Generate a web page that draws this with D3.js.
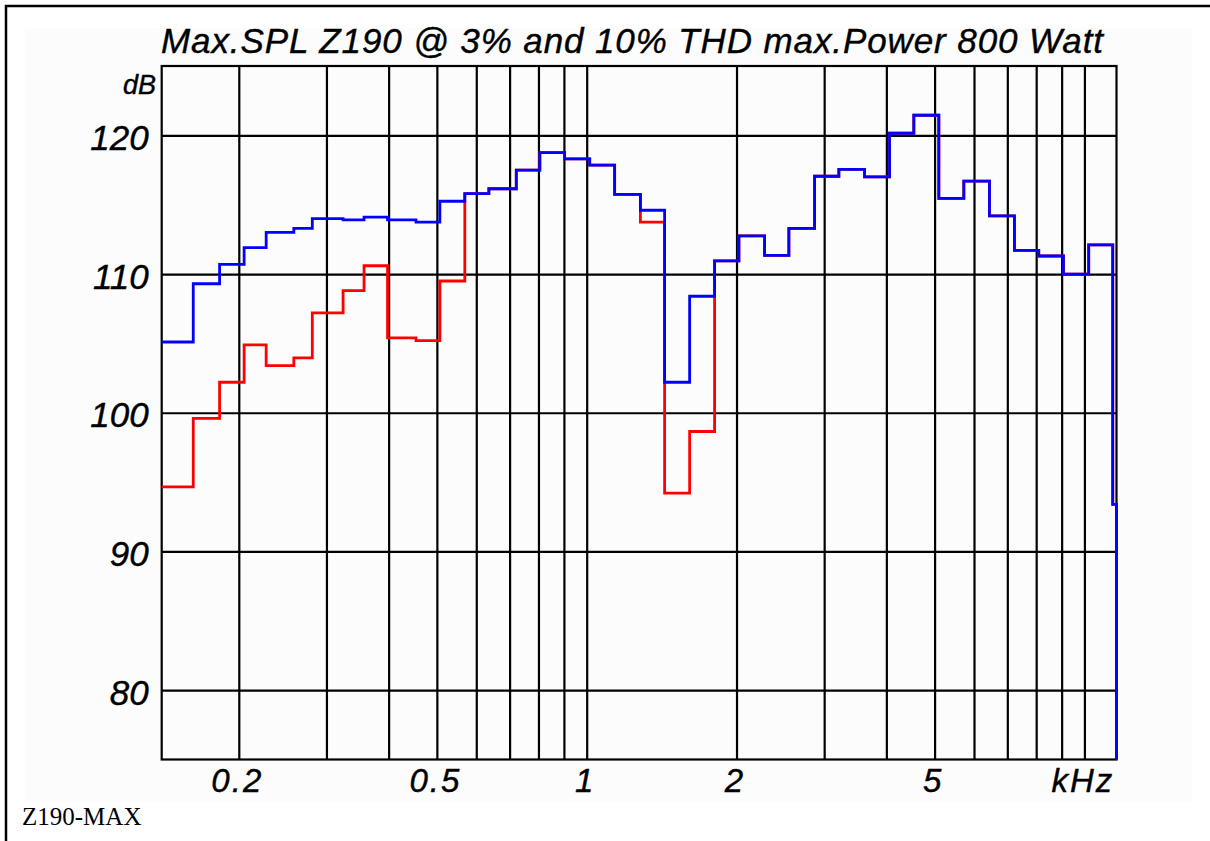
<!DOCTYPE html>
<html>
<head>
<meta charset="utf-8">
<script src="https://cdn.jsdelivr.net/npm/d3@7"></script>
<style>
  body { margin: 0; background: #fff; }
  svg { display: block; }
</style>
</head>
<body>
<svg width="1210" height="841"></svg>
<script>

// band edges in kHz (1/6 octave steps as drawn)
let bandEdges = [0.14, 0.162, 0.183, 0.205, 0.227, 0.258, 0.281, 0.324, 0.357, 0.398,
    0.454, 0.507, 0.569, 0.636, 0.722, 0.805, 0.903, 1.014, 1.138, 1.282,
    1.434, 1.610, 1.807, 2.022, 2.277, 2.548, 2.870, 3.211, 3.616, 4.060,
    4.542, 5.099, 5.724, 6.445, 7.235, 8.095, 9.075, 10.20, 11.40, 11.6];

// max SPL @ 10% THD (blue)
let spl10 = [105.1, 109.3, 110.7, 111.9, 113.0, 113.3, 114.0, 113.9, 114.1, 113.9,
    113.75, 115.25, 115.8, 116.15, 117.5, 118.75, 118.3, 117.85, 115.75, 114.6,
    102.2, 108.4, 110.95, 112.75, 111.35, 113.3, 117.05, 117.55, 117.0, 120.15,
    121.45, 115.45, 116.7, 114.2, 111.7, 111.3, 110.0, 112.1, 93.4];

// max SPL @ 3% THD (red)
let spl3 = [94.65, 99.6, 102.2, 104.9, 103.4, 103.95, 107.2, 108.8, 110.6, 105.4,
    105.2, 109.5, 115.8, 116.15, 117.5, 118.75, 118.3, 117.85, 115.75, 113.75,
    94.2, 98.65, 110.95, 112.75, 111.35, 113.3, 117.05, 117.55, 117.0, 120.15,
    121.45, 115.45, 116.7, 114.2, 111.7, 111.3, 110.0, 112.1, 93.4];

let gridFreqs = [0.2, 0.3, 0.4, 0.5, 0.6, 0.7, 0.8, 0.9, 1, 2, 3, 4, 5, 6, 7, 8, 9, 10];
let xTickVals = [0.2, 0.5, 1, 2, 5, 10];
let xTickLabels = ['0.2', '0.5', '1', '2', '5', 'kHz'];
let yTicks = [80, 90, 100, 110, 120];

let svg = d3.select('svg');
let width = +svg.attr('width');
let height = +svg.attr('height');
let margin = { top: 66, right: 93.5, bottom: 81.5, left: 161.7 };

let x = d3.scaleLog()
    .domain([0.14, 11.6])
    .range([margin.left, width - margin.right]);

let y = d3.scaleLinear()
    .domain([75, 125])
    .range([height - margin.bottom, margin.top]);

let innerW = width - margin.left - margin.right;
let innerH = height - margin.top - margin.bottom;
let font = "'Liberation Sans', Arial, sans-serif";

// faint page canvas + outer frame
svg.append('rect')
    .attr('x', 25).attr('y', 28).attr('width', 1167).attr('height', 774)
    .attr('fill', '#fcfcfc');
svg.append('path')
    .attr('d', 'M6,841V6H1210')
    .attr('fill', 'none').attr('stroke', '#000').attr('stroke-width', 2.5);

// vertical grid + x labels
let gx = svg.append('g')
    .attr('transform', 'translate(0,' + (height - margin.bottom) + ')')
    .call(d3.axisBottom(x)
        .tickValues(gridFreqs)
        .tickSizeInner(-innerH).tickSizeOuter(0).tickPadding(9)
        .tickFormat(d => {
            let i = xTickVals.indexOf(d);
            return i < 0 ? '' : xTickLabels[i];
        }));
gx.select('.domain').remove();
gx.selectAll('line').attr('stroke', '#000').attr('stroke-width', 2.2);
gx.selectAll('text')
    .attr('font-family', font).attr('font-style', 'italic')
    .attr('font-size', 33).attr('fill', '#000')
    .attr('stroke', '#000').attr('stroke-width', 0.4)
    .attr('letter-spacing', 2)
    .attr('dx', -2);

// horizontal grid + y labels
let gy = svg.append('g')
    .attr('transform', 'translate(' + margin.left + ',0)')
    .call(d3.axisLeft(y)
        .tickValues(yTicks)
        .tickSizeInner(-innerW).tickSizeOuter(0).tickPadding(13));
gy.select('.domain').remove();
gy.selectAll('line').attr('stroke', '#000').attr('stroke-width', 2.2);
gy.selectAll('text')
    .attr('font-family', font).attr('font-style', 'italic')
    .attr('font-size', 35).attr('fill', '#000')
    .attr('stroke', '#000').attr('stroke-width', 0.4)
    .attr('dy', '0.4em');

// plot frame
svg.append('rect')
    .attr('x', margin.left).attr('y', margin.top)
    .attr('width', innerW).attr('height', innerH)
    .attr('fill', 'none').attr('stroke', '#000').attr('stroke-width', 2.2);

// step curves
let line = d3.line()
    .x(d => x(d[0]))
    .y(d => y(d[1]))
    .curve(d3.curveStepAfter);

function steps(vals) {
    let pts = vals.map((v, i) => [bandEdges[i], v]);
    pts.push([bandEdges[vals.length], vals[vals.length - 1]]);
    pts.push([bandEdges[vals.length], y.domain()[0]]);
    return pts;
}

svg.append('path')
    .attr('d', line(steps(spl3)))
    .attr('fill', 'none').attr('stroke', '#ff0000').attr('stroke-width', 2.8);

svg.append('path')
    .attr('d', line(steps(spl10)))
    .attr('fill', 'none').attr('stroke', '#0000ff').attr('stroke-width', 2.8);

// texts
svg.append('text')
    .attr('x', 161).attr('y', 53)
    .attr('textLength', 942).attr('lengthAdjust', 'spacing')
    .attr('font-family', font).attr('font-style', 'italic').attr('font-size', 35)
    .attr('stroke', '#000').attr('stroke-width', 0.4)
    .text('Max.SPL Z190 @ 3% and 10% THD max.Power 800 Watt');

svg.append('text')
    .attr('x', 156).attr('y', 94)
    .attr('text-anchor', 'end')
    .attr('font-family', font).attr('font-style', 'italic').attr('font-size', 27)
    .attr('stroke', '#000').attr('stroke-width', 0.4)
    .text('dB');

svg.append('text')
    .attr('x', 22).attr('y', 825)
    .attr('font-family', "'Liberation Serif', 'Times New Roman', serif")
    .attr('font-size', 25)
    .text('Z190-MAX');

</script>
</body>
</html>
